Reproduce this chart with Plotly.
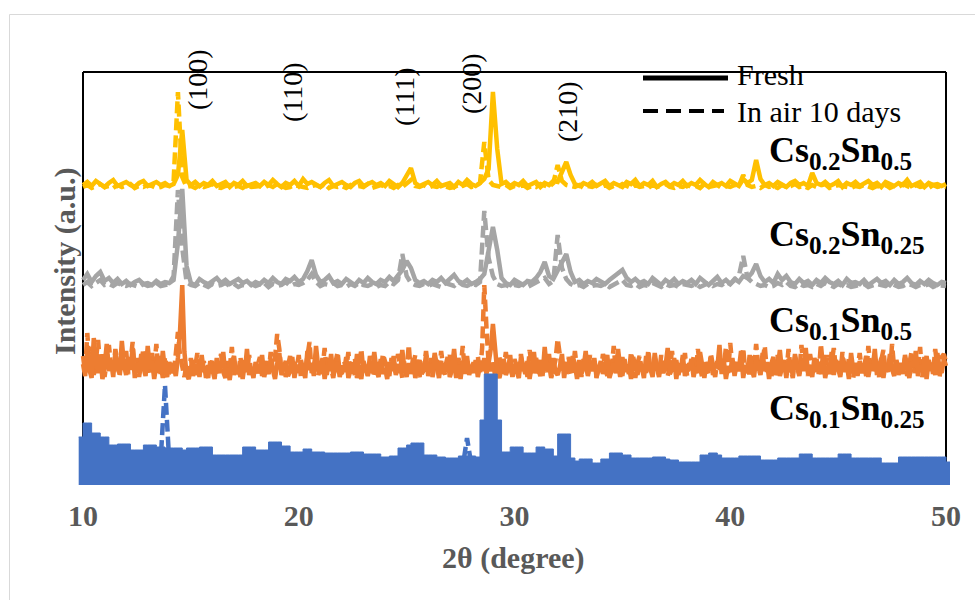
import numpy as np
import plotly.graph_objects as go

# ---- XRD patterns (intensity in a.u., relative to each pattern's own baseline) ----
# 2-theta grid, 0.2 degree steps from 10 to 50
THETA = np.round(np.arange(10.0, 50.0001, 0.2), 1)
# finer 0.1 degree grid for the noisier Cs0.1Sn0.5 scans
THETA_FINE = np.round(np.arange(10.0, 50.0001, 0.1), 1)

# Cs0.2Sn0.5
CS02SN05_FRESH = [
    4, 7, 3, 8, 5, 2, 6, 9, 3, 5, 7, 4, 2, 6, 8, 3, 5, 7, 4, 6,
    3, 5, 14, 59, 9, 4, 7, 3, 6, 4, 8, 3, 5, 7, 2, 6, 4, 8, 3, 5,
    6, 3, 7, 4, 9, 5, 2, 6, 4, 8, 3, 10, 5, 7, 4, 2, 6, 9, 3, 5,
    7, 4, 2, 6, 8, 3, 5, 7, 4, 6, 3, 8, 5, 2, 6, 14, 21, 6, 3, 5,
    7, 4, 8, 3, 5, 6, 2, 7, 4, 9, 5, 3, 6, 10, 20, 97, 40, 5, 7, 3,
    6, 4, 8, 3, 5, 7, 2, 6, 4, 8, 7, 16, 27, 14, 5, 3, 6, 4, 7, 3,
    5, 8, 3, 6, 4, 2, 7, 5, 9, 3, 6, 4, 8, 2, 5, 7, 3, 6, 4, 8,
    3, 6, 4, 9, 5, 2, 7, 4, 6, 3, 8, 5, 3, 10, 6, 9, 29, 10, 4, 6,
    3, 7, 5, 2, 6, 8, 4, 6, 3, 16, 6, 4, 7, 3, 5, 8, 2, 6, 4, 7,
    3, 5, 8, 4, 6, 2, 7, 5, 3, 6, 4, 9, 3, 5, 7, 2, 6, 4, 5, 3,
    5,
]
CS02SN05_AIR = [
    2, 4, 1, 3, 5, 2, 3, 1, 4, 2, 3, 5, 1, 3, 2, 4, 3, 1, 2, 4,
    3, 8, 97, 12, 2, 3, 1, 4, 2, 3, 5, 2, 1, 3, 4, 2, 3, 1, 4, 2,
    2, 3, 1, 4, 2, 5, 3, 1, 2, 4, 3, 2, 1, 3, 4, 2, 5, 1, 3, 2,
    3, 1, 4, 2, 3, 2, 5, 1, 3, 4, 2, 3, 1, 4, 2, 6, 9, 3, 2, 4,
    1, 3, 2, 4, 3, 1, 2, 4, 3, 5, 2, 3, 6, 47, 9, 4, 3, 2, 4, 1,
    3, 2, 4, 1, 3, 2, 5, 3, 2, 6, 24, 8, 4, 3, 2, 4, 1, 3, 2, 4,
    2, 4, 1, 3, 2, 5, 3, 1, 4, 2, 3, 1, 4, 2, 3, 5, 2, 1, 3, 2,
    4, 2, 3, 1, 5, 2, 3, 4, 1, 3, 2, 4, 3, 14, 4, 2, 3, 1, 4, 2,
    3, 1, 4, 2, 3, 5, 2, 3, 1, 4, 2, 3, 5, 1, 2, 4, 3, 2, 1, 3,
    2, 4, 3, 1, 3, 2, 4, 1, 3, 2, 5, 3, 1, 4, 2, 3, 1, 4, 2, 3,
    2,
]

# Cs0.2Sn0.25
CS02SN025_FRESH = [
    8, 14, 6, 12, 16, 7, 10, 5, 9, 4, 7, 3, 6, 8, 4, 5, 3, 7, 4, 6,
    5, 8, 45, 99, 22, 5, 3, 9, 6, 4, 7, 10, 5, 8, 4, 6, 9, 5, 7, 3,
    6, 4, 8, 5, 10, 6, 4, 9, 7, 11, 6, 9, 17, 28, 13, 6, 8, 12, 5, 7,
    4, 9, 6, 3, 8, 5, 10, 6, 4, 8, 6, 11, 7, 12, 18, 27, 20, 8, 5, 7,
    4, 8, 6, 10, 5, 9, 13, 7, 5, 8, 4, 6, 9, 14, 40, 61, 38, 10, 5, 3,
    8, 5, 3, 7, 6, 10, 16, 26, 12, 9, 18, 25, 34, 16, 6, 8, 4, 7, 5, 9,
    6, 4, 8, 11, 14, 18, 10, 6, 9, 5, 7, 4, 10, 6, 3, 8, 5, 9, 4, 7,
    5, 8, 4, 10, 6, 3, 7, 11, 5, 8, 4, 9, 6, 12, 10, 15, 24, 12, 6, 9,
    5, 14, 8, 12, 6, 4, 9, 5, 7, 3, 8, 5, 10, 6, 4, 7, 3, 9, 5, 6,
    4, 8, 3, 6, 9, 5, 7, 3, 8, 4, 6, 10, 5, 3, 7, 4, 8, 5, 3, 6,
    5,
]
CS02SN025_AIR = [
    3, 6, 2, 5, 8, 3, 4, 2, 5, 3, 2, 4, 3, 1, 4, 2, 3, 5, 2, 3,
    4, 12, 98, 40, 6, 3, 2, 5, 3, 1, 4, 2, 3, 5, 2, 4, 1, 3, 2, 4,
    2, 3, 5, 1, 4, 2, 3, 6, 2, 4, 3, 5, 8, 14, 6, 2, 4, 3, 5, 2,
    3, 1, 4, 2, 5, 3, 2, 4, 1, 3, 2, 6, 4, 8, 34, 12, 5, 3, 2, 4,
    2, 4, 3, 1, 5, 3, 2, 6, 3, 2, 4, 3, 6, 77, 30, 12, 4, 2, 3, 1,
    3, 2, 4, 1, 3, 5, 8, 10, 4, 7, 53, 20, 9, 4, 2, 3, 1, 4, 2, 3,
    2, 4, 1, 3, 5, 8, 3, 2, 4, 1, 3, 2, 5, 3, 1, 4, 2, 3, 1, 4,
    3, 2, 4, 1, 3, 5, 2, 4, 3, 6, 4, 8, 12, 32, 10, 6, 4, 2, 3, 1,
    2, 5, 3, 6, 2, 1, 4, 2, 3, 1, 4, 2, 5, 3, 1, 4, 2, 3, 1, 2,
    3, 4, 1, 2, 4, 3, 2, 5, 3, 1, 2, 4, 3, 1, 3, 2, 4, 1, 3, 2,
    2,
]

# Cs0.1Sn0.5 (0.1 degree steps)
CS01SN05_FRESH = [
    18, 6, 32, 12, 4, 44, 20, 9, 27, 3, 15, 38, 11, 22, 5, 30, 14, 8, 41, 17,
    7, 25, 12, 34, 4, 19, 9, 28, 15, 6, 36, 13, 21, 3, 17, 26, 8, 31, 11, 5,
    20, 9, 16, 6, 24, 52, 97, 30, 8, 3, 14, 22, 7, 18, 5, 27, 10, 16, 4, 21,
    12, 3, 24, 9, 17, 30, 6, 14, 2, 19, 26, 8, 13, 5, 22, 10, 33, 7, 15, 4,
    20, 9, 13, 27, 5, 16, 8, 23, 12, 3, 18, 29, 7, 14, 21, 6, 11, 25, 4, 17,
    9, 22, 14, 4, 31, 12, 19, 6, 36, 15, 8, 24, 3, 17, 11, 28, 7, 13, 20, 5,
    16, 10, 25, 4, 13, 19, 7, 28, 11, 3, 21, 14, 6, 18, 9, 30, 12, 5, 23, 8,
    14, 3, 20, 11, 26, 7, 17, 9, 32, 13, 5, 19, 10, 24, 4, 15, 22, 8, 12, 27,
    6, 18, 10, 29, 13, 4, 21, 8, 16, 25, 5, 12, 33, 9, 17, 3, 20, 11, 26, 7,
    15, 9, 22, 5, 17, 11, 24, 8, 19, 33, 58, 36, 10, 4, 16, 23, 7, 13, 27, 5,
    18, 11, 4, 25, 14, 8, 21, 3, 16, 30, 9, 13, 22, 6, 35, 12, 19, 5, 24, 10,
    7, 15, 28, 4, 20, 12, 9, 26, 17, 3, 22, 8, 14, 31, 6, 18, 11, 24, 5, 13,
    21, 8, 16, 27, 4, 12, 19, 9, 33, 14, 6, 23, 10, 17, 3, 25, 13, 7, 20, 15,
    4, 26, 11, 18, 7, 29, 14, 5, 21, 9, 16, 34, 8, 13, 24, 3, 19, 10, 27, 6,
    17, 12, 23, 5, 15, 9, 30, 13, 4, 20, 11, 26, 7, 18, 14, 37, 8, 22, 3, 16,
    10, 24, 6, 19, 13, 31, 4, 17, 9, 27, 12, 5, 22, 15, 8, 29, 11, 20, 3, 18,
    25, 7, 14, 32, 10, 19, 4, 23, 12, 8, 28, 15, 6, 21, 11, 34, 9, 17, 5, 24,
    13, 20, 8, 27, 4, 16, 11, 30, 7, 22, 14, 5, 25, 10, 18, 3, 29, 12, 19, 6,
    21, 9, 15, 26, 5, 18, 12, 33, 7, 14, 24, 4, 19, 10, 28, 13, 6, 22, 11, 16,
    8, 27, 13, 4, 20, 15, 31, 6, 17, 10, 25, 3, 22, 12, 18, 7, 29, 14, 9, 23,
    16,
]
CS01SN05_AIR = [
    26, 10, 49, 15, 35, 7, 22, 42, 13, 30, 5, 24, 37, 16, 9, 33, 20, 6, 28, 12,
    31, 8, 19, 40, 11, 24, 5, 17, 33, 10, 22, 7, 29, 14, 38, 9, 18, 4, 25, 13,
    11, 19, 7, 28, 50, 26, 12, 5, 18, 10, 24, 6, 15, 29, 9, 13, 21, 4, 17, 8,
    23, 14, 6, 18, 28, 10, 4, 21, 13, 35, 7, 16, 9, 25, 3, 19, 12, 27, 8, 14,
    9, 17, 25, 6, 14, 21, 8, 30, 12, 24, 48, 33, 10, 19, 5, 15, 26, 9, 20, 13,
    27, 5, 18, 11, 23, 40, 9, 16, 28, 6, 20, 13, 34, 7, 24, 15, 4, 19, 30, 10,
    8, 21, 13, 30, 6, 17, 24, 4, 15, 33, 10, 19, 7, 26, 14, 5, 22, 16, 9, 28,
    20, 11, 6, 24, 15, 9, 28, 18, 4, 22, 12, 37, 8, 16, 27, 11, 5, 20, 14, 31,
    13, 24, 5, 17, 22, 9, 31, 14, 6, 19, 27, 10, 18, 4, 24, 13, 36, 8, 21, 15,
    7, 20, 12, 26, 9, 34, 97, 55, 18, 11, 22, 6, 17, 25, 8, 14, 30, 10, 19, 4,
    23, 14, 8, 28, 11, 19, 5, 32, 16, 9, 24, 13, 6, 21, 17, 10, 28, 4, 15, 22,
    43, 30, 12, 20, 7, 25, 14, 9, 31, 12, 18, 5, 23, 15, 8, 27, 11, 20, 4, 16,
    10, 28, 15, 6, 22, 13, 36, 9, 18, 5, 25, 12, 20, 8, 30, 14, 4, 19, 26, 11,
    17, 9, 32, 13, 5, 24, 16, 8, 27, 11, 20, 6, 15, 31, 10, 22, 7, 18, 12, 29,
    6, 19, 12, 25, 9, 33, 15, 4, 22, 16, 8, 28, 13, 5, 21, 10, 26, 14, 35, 9,
    39, 14, 8, 22, 11, 17, 34, 9, 20, 5, 26, 13, 38, 16, 7, 23, 36, 10, 19, 4,
    18, 11, 27, 6, 15, 22, 9, 33, 13, 4, 25, 17, 8, 37, 12, 20, 6, 28, 14, 10,
    23, 8, 38, 15, 10, 27, 5, 19, 34, 12, 21, 7, 30, 14, 9, 24, 16, 4, 20, 13,
    29, 11, 18, 6, 36, 14, 9, 25, 17, 5, 22, 32, 10, 16, 8, 38, 13, 21, 7, 19,
    12, 24, 6, 17, 30, 9, 20, 14, 35, 5, 18, 26, 11, 22, 8, 33, 15, 4, 25, 28,
    20,
]

# Cs0.1Sn0.25 -- fresh pattern drawn as a stepped filled profile, 9.8 to 50.2 degrees
CS01SN025_FRESH = [
    48, 62, 62, 52, 52, 48, 48, 40, 40, 41,
    41, 41, 35, 35, 35, 40, 40, 40, 38, 38,
    37, 37, 37, 37, 35, 37, 37, 37, 38, 38,
    38, 30, 30, 30, 30, 30, 30, 30, 38, 38,
    38, 35, 35, 35, 43, 43, 43, 39, 39, 33,
    33, 33, 36, 36, 33, 33, 33, 32, 32, 32,
    32, 32, 32, 33, 33, 33, 31, 31, 31, 31,
    28, 28, 29, 29, 37, 37, 40, 42, 42, 42,
    30, 30, 30, 28, 28, 27, 27, 27, 29, 29,
    29, 29, 28, 65, 111, 111, 111, 65, 33, 33,
    38, 38, 38, 32, 32, 32, 38, 38, 36, 36,
    29, 51, 51, 51, 27, 24, 26, 26, 26, 22,
    22, 26, 26, 32, 32, 32, 30, 30, 27, 27,
    27, 27, 27, 28, 28, 28, 26, 25, 25, 23,
    23, 23, 23, 23, 30, 30, 32, 32, 30, 27,
    27, 27, 27, 29, 29, 29, 29, 29, 25, 25,
    25, 25, 27, 27, 27, 27, 27, 31, 31, 31,
    27, 27, 27, 27, 27, 27, 31, 31, 31, 27,
    27, 27, 27, 27, 27, 27, 22, 22, 22, 22,
    28, 28, 28, 28, 28, 28, 28, 28, 28, 28,
    28, 23, 23,
]
THETA_B = np.round(9.8 + 0.2 * np.arange(len(CS01SN025_FRESH)), 1)
CS01SN025_AIR = [
    20, 22, 18, 19, 21, 17, 20, 18, 19, 21, 17, 18, 20, 19, 17, 18, 20, 16, 25, 100,
    22, 18, 19, 17, 20, 18, 16, 19, 17, 18, 20, 17, 19, 16, 18, 17, 19, 18, 16, 17,
    18, 16, 19, 17, 18, 20, 17, 16, 18, 17, 19, 16, 18, 17, 15, 18, 16, 17, 19, 16,
    17, 15, 18, 16, 17, 15, 16, 18, 15, 17, 16, 18, 17, 19, 18, 20, 18, 17, 16, 18,
    16, 17, 15, 16, 18, 16, 15, 17, 18, 47, 20, 16, 18, 20, 22, 20, 18, 16, 17, 15,
    17, 16, 18, 15, 17, 16, 18, 17, 16, 19, 20, 21, 19, 16, 15, 17, 14, 16, 15, 14,
    16, 15, 17, 14, 16, 15, 14, 16, 15, 17, 14, 15, 16, 14, 15, 13, 16, 14, 15, 14,
    15, 14, 16, 13, 15, 14, 16, 15, 13, 15, 14, 16, 15, 14, 13, 15, 14, 16, 13, 15,
    14, 16, 13, 15, 14, 13, 15, 14, 16, 13, 15, 14, 13, 15, 16, 14, 13, 15, 14, 13,
    15, 14, 13, 16, 14, 15, 13, 14, 16, 15, 14, 13, 15, 14, 16, 14, 15, 13, 14, 15,
    14,
]

# Miller indices of the perovskite reflections
HKL_LABELS = ["(100)", "(110)", "(111)", "(200)", "(210)"]

# ---- styling / stacking ----
W, H = 975, 600
M = dict(l=78, r=25, t=72, b=115)
Y_TOP = 413  # y range in a.u. so the stacked patterns fit the panel

def paper_x(px):
    return (px - M["l"]) / (W - M["l"] - M["r"])

def paper_y(py):
    return (H - M["b"] - py) / (H - M["t"] - M["b"])

YELLOW, GREY, ORANGE, BLUE = "#FFC000", "#A5A5A5", "#ED7D31", "#4472C4"
SERIF = "Liberation Serif"
AXIS_GREY = "#595959"
DASH = "12px,5px"
LW = 4.5

line_patterns = [
    # (grid, fresh, aged, vertical stacking offset, colour)
    (THETA, CS02SN05_FRESH, CS02SN05_AIR, 296, YELLOW),
    (THETA, CS02SN025_FRESH, CS02SN025_AIR, 197, GREY),
    (THETA_FINE, CS01SN05_FRESH, CS01SN05_AIR, 103, ORANGE),
]

fig = go.Figure()

for grid, fresh, aged, offset, colour in line_patterns:
    fig.add_trace(go.Scatter(
        x=grid, y=np.asarray(aged) + offset, mode="lines",
        line=dict(color=colour, width=LW, dash=DASH), hoverinfo="skip"))
    fig.add_trace(go.Scatter(
        x=grid, y=np.asarray(fresh) + offset, mode="lines",
        line=dict(color=colour, width=LW), hoverinfo="skip"))

fig.add_trace(go.Scatter(
    x=THETA, y=CS01SN025_AIR, mode="lines",
    line=dict(color=BLUE, width=LW, dash=DASH), hoverinfo="skip"))
fig.add_trace(go.Scatter(
    x=THETA_B, y=CS01SN025_FRESH, mode="lines", line_shape="hv",
    line=dict(color=BLUE, width=1), fill="tozeroy", fillcolor=BLUE,
    hoverinfo="skip"))

annotations = []

# reflection labels, rotated
hkl_pos = [(198, 80), (293, 92), (405, 97), (472, 84), (567, 112)]
for label, (px, py) in zip(HKL_LABELS, hkl_pos):
    annotations.append(dict(
        x=paper_x(px), y=paper_y(py), xref="paper", yref="paper",
        text=label, textangle=-90, showarrow=False,
        xanchor="center", yanchor="middle",
        font=dict(family=SERIF, size=28, color="black")))

# sample names
sample_labels = [
    ("<b>Cs<sub>0.2</sub>Sn<sub>0.5</sub></b>", 152),
    ("<b>Cs<sub>0.2</sub>Sn<sub>0.25</sub></b>", 236),
    ("<b>Cs<sub>0.1</sub>Sn<sub>0.5</sub></b>", 322),
    ("<b>Cs<sub>0.1</sub>Sn<sub>0.25</sub></b>", 410),
]
for text, py in sample_labels:
    annotations.append(dict(
        x=paper_x(767), y=paper_y(py), xref="paper", yref="paper",
        text=text, showarrow=False, xanchor="left", yanchor="middle",
        font=dict(family=SERIF, size=36, color="black")))

# legend text
for text, py in [("Fresh", 75), ("In air 10 days", 111)]:
    annotations.append(dict(
        x=paper_x(735), y=paper_y(py), xref="paper", yref="paper",
        text=text, showarrow=False, xanchor="left", yanchor="middle",
        font=dict(family=SERIF, size=30, color="black")))

# axis titles
annotations.append(dict(
    x=paper_x(65), y=paper_y(261), xref="paper", yref="paper",
    text="<b>Intensity (a.u.)</b>", textangle=-90, showarrow=False,
    xanchor="center", yanchor="middle",
    font=dict(family=SERIF, size=30, color=AXIS_GREY)))
annotations.append(dict(
    x=paper_x(513), y=paper_y(558), xref="paper", yref="paper",
    text="<b>2θ (degree)</b>", showarrow=False,
    xanchor="center", yanchor="middle",
    font=dict(family=SERIF, size=30, color=AXIS_GREY)))

shapes = [
    # outer chart border
    dict(type="rect", xref="paper", yref="paper",
         x0=paper_x(9.5), x1=paper_x(1000), y0=paper_y(640), y1=paper_y(14.5),
         line=dict(color="#D9D9D9", width=1), layer="below"),
    # panel frame (left, right, top)
    dict(type="line", xref="x", yref="paper", x0=10, x1=10, y0=0, y1=1,
         line=dict(color="black", width=2), layer="below"),
    dict(type="line", xref="x", yref="paper", x0=50, x1=50, y0=0, y1=1,
         line=dict(color="black", width=2), layer="below"),
    dict(type="line", xref="x", yref="paper", x0=10, x1=50, y0=1, y1=1,
         line=dict(color="black", width=2), layer="below"),
    # legend keys
    dict(type="line", xref="paper", yref="paper",
         x0=paper_x(643), x1=paper_x(728), y0=paper_y(78), y1=paper_y(78),
         line=dict(color="black", width=5)),
    dict(type="line", xref="paper", yref="paper",
         x0=paper_x(643), x1=paper_x(724), y0=paper_y(111), y1=paper_y(111),
         line=dict(color="black", width=4, dash="15px,8px")),
]

px_per_deg = (946 - 83) / 40.0
x_lo = 10 - (83 - M["l"]) / px_per_deg
x_hi = 50 + (W - M["r"] - 946) / px_per_deg

fig.update_layout(
    width=W, height=H, autosize=False, margin=M,
    paper_bgcolor="white", plot_bgcolor="white", showlegend=False,
    font=dict(family=SERIF),
    xaxis=dict(range=[x_lo, x_hi], tickvals=[10, 20, 30, 40, 50],
               ticks="", showgrid=False, zeroline=False, showline=False,
               ticklabelstandoff=10,
               tickfont=dict(family=SERIF, size=30, color=AXIS_GREY, weight="bold")),
    yaxis=dict(range=[0, Y_TOP], showticklabels=False, ticks="",
               showgrid=False, zeroline=False, showline=False),
    annotations=annotations, shapes=shapes,
)

fig.write_html("out.html")
